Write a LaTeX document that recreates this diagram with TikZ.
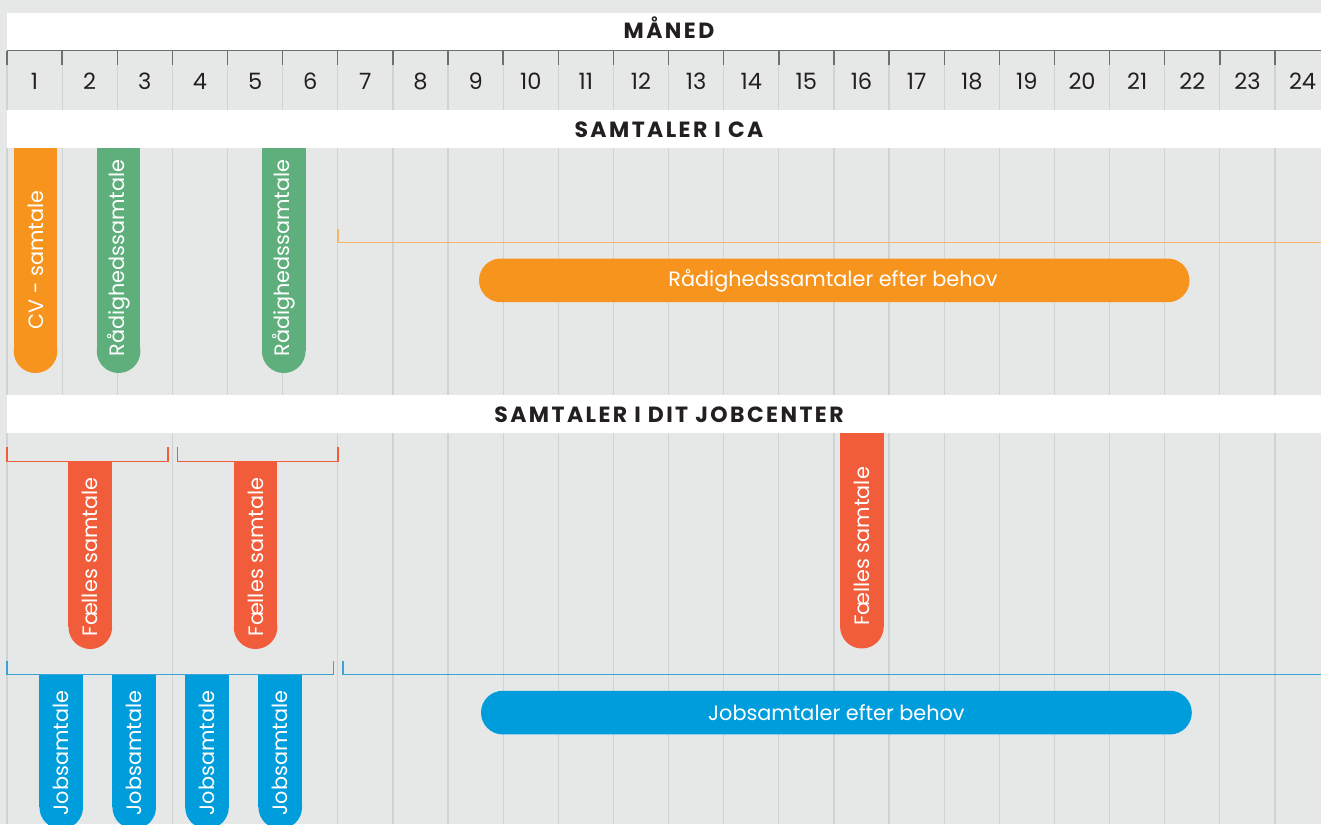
\documentclass[tikz,border=0pt]{standalone}
\usepackage{fontspec}
\setmainfont{Poppins}
\definecolor{bgc}{HTML}{E6E7E7}
\definecolor{gridc}{HTML}{D0D2D3}
\definecolor{tickc}{HTML}{6D6E71}
\definecolor{txtc}{HTML}{231F20}
\definecolor{orangec}{HTML}{F7941D}
\definecolor{orangel}{HTML}{F5B46E}
\definecolor{greenc}{HTML}{5FAF7D}
\definecolor{redc}{HTML}{F15D3B}
\definecolor{bluec}{HTML}{009DDC}
\definecolor{bluel}{HTML}{3CA3D6}
\tikzset{
  gridline/.style={draw=gridc, line width=1.2pt},
  tickline/.style={draw=tickc, line width=1.4pt},
  num/.style={text=txtc, font=\fontsize{22.5}{22.5}\selectfont, inner sep=0pt, anchor=base},
  head/.style={text=txtc, font=\bfseries\fontsize{22}{22}\selectfont\addfontfeatures{LetterSpace=11}, inner sep=0pt, anchor=base},
  vtext/.style={text=white, font=\fontsize{20.8}{20.8}\selectfont, inner sep=0pt, rotate=90},
  htext/.style={text=white, font=\fontsize{20.8}{20.8}\selectfont, inner sep=0pt},
  brk/.style={line width=1.1pt}
}
\newcommand{\vbarfill}[5]{% x1 x2 ytop ybot color
  \fill[#5] (#1,#3) rectangle (#2,{#4-21.8});
  \fill[#5] ({(#1+#2)/2},{#4-21.8}) circle (21.8pt);
}
\begin{document}
\begin{tikzpicture}[x=1pt,y=-1pt]
\useasboundingbox (0,0) rectangle (1321,824);
\fill[bgc] (0,0) rectangle (1321,824);
% white bands
\fill[white] (7,13) rectangle (1321,50);
\fill[white] (7,110) rectangle (1321,148);
\fill[white] (7,395) rectangle (1321,433);
% grid lines
\foreach \k in {0,...,24}{
  \draw[gridline] ({7+\k*55.13},65) -- ({7+\k*55.13},110);
  \draw[gridline] ({7+\k*55.13},148) -- ({7+\k*55.13},395);
}
\foreach \k in {0,3,6,7,...,24}{
  \draw[gridline] ({7+\k*55.13},433) -- ({7+\k*55.13},824);
}
% header ticks
\draw[tickline] (7,50.8) -- (1321,50.8);
\foreach \k in {0,...,24}{
  \draw[tickline] ({7+\k*55.13},50.8) -- ({7+\k*55.13},65.5);
}
\foreach \k in {1,...,24}{
  \node[num] (n\k) at ({7+(\k-0.5)*55.13},89.8) {\k};
}
% headings
\node[head] (maned) at (669,38.5) {MÅNED};
\node[head] (ca) at (669,137.5) {SAMTALER I CA};
\node[head] (jc) at (669,422.5) {SAMTALER I DIT JOBCENTER};

% --- Section CA ---
\vbarfill{13.6}{57.4}{148}{373}{orangec}
\node[vtext] (cv) at (35.5,260) {CV - samtale};
\vbarfill{96.8}{140.4}{148}{373}{greenc}
\node[vtext] (r1) at (118.6,258) {Rådighedssamtale};
\vbarfill{261.8}{305.6}{148}{373}{greenc}
\node[vtext] (r2) at (283.7,258) {Rådighedssamtale};
% orange bracket
\coordinate (ob1) at (338,229);
\coordinate (ob2) at (338,242.5);
\coordinate (ob3) at (1321,242.5);
\draw[brk, orangel] (ob1) -- (ob2) -- (ob3);
\fill[orangec, rounded corners=21.8pt] (479,258.5) rectangle (1189.5,302.2);
\node[htext] (rb) at (833,280.5) {Rådighedssamtaler efter behov};

% --- Section Jobcenter ---
\coordinate (rb1a) at (7,447);
\coordinate (rb1b) at (7,461.5);
\coordinate (rb1c) at (168,461.5);
\coordinate (rb1d) at (168,447);
\draw[brk, redc] (rb1a) -- (rb1b) -- (rb1c) -- (rb1d);
\coordinate (rb2a) at (177.5,447);
\coordinate (rb2b) at (177.5,461.5);
\coordinate (rb2c) at (338,461.5);
\coordinate (rb2d) at (338,447);
\draw[brk, redc] (rb2a) -- (rb2b) -- (rb2c) -- (rb2d);
\vbarfill{68.4}{112.2}{461.5}{649}{redc}
\node[vtext] (f1) at (90.3,557) {Fælles samtale};
\vbarfill{233.7}{277.4}{461.5}{649}{redc}
\node[vtext] (f2) at (255.5,557) {Fælles samtale};
\vbarfill{840}{883.8}{433}{648.5}{redc}
\node[vtext] (f3) at (861.9,546.5) {Fælles samtale};

% blue brackets
\coordinate (bb1a) at (7,661);
\coordinate (bb1b) at (7,674.5);
\coordinate (bb1c) at (333.5,674.5);
\coordinate (bb1d) at (333.5,661);
\draw[brk, bluel] (bb1a) -- (bb1b) -- (bb1c) -- (bb1d);
\coordinate (bb2a) at (343,661);
\coordinate (bb2b) at (343,674.5);
\coordinate (bb2c) at (1321,674.5);
\draw[brk, bluel] (bb2a) -- (bb2b) -- (bb2c);
\vbarfill{39.4}{83.1}{675}{829}{bluec}
\node[vtext] (j1) at (61.2,753) {Jobsamtale};
\vbarfill{112.4}{156.1}{675}{829}{bluec}
\node[vtext] (j2) at (134.2,753) {Jobsamtale};
\vbarfill{185.1}{228.9}{675}{829}{bluec}
\node[vtext] (j3) at (207,753) {Jobsamtale};
\vbarfill{258.4}{302.1}{675}{829}{bluec}
\node[vtext] (j4) at (280.2,753) {Jobsamtale};
\fill[bluec, rounded corners=21.8pt] (481,690.8) rectangle (1191.8,734.4);
\node[htext] (jb) at (836.4,712.6) {Jobsamtaler efter behov};
\end{tikzpicture}
\end{document}
